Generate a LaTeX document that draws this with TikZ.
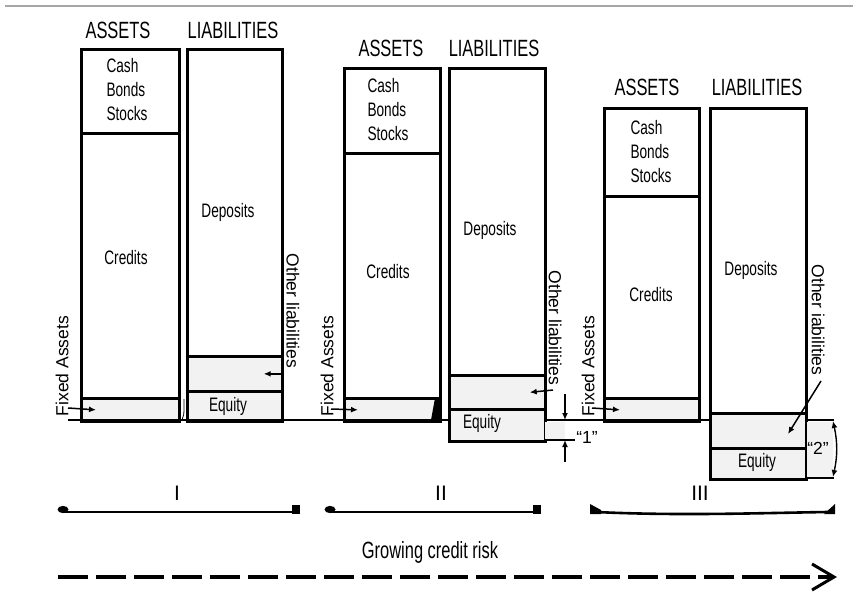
\documentclass[tikz,border=0pt]{standalone}
\usepackage{fontspec}
\setmainfont[FakeStretch=0.70]{Liberation Sans}
\newfontfamily\vfont{Liberation Sans}
\usetikzlibrary{arrows.meta}
\definecolor{lg}{gray}{0.95}
\tikzset{
  sec/.style n args={2}{draw, line width=2.7pt, anchor=north west, inner sep=0pt, minimum width=#1, minimum height=#2},
  hd/.style={font=\fontsize{23.5}{26}\selectfont, inner sep=0pt},
  tx/.style={font=\fontsize{19.5}{24}\selectfont, inner sep=0pt, align=left},
  vt/.style={font=\vfont\fontsize{17.5}{20}\selectfont, inner sep=0pt},
  rn/.style={font=\vfont\fontsize{21}{24}\selectfont, inner sep=0pt},
  ptr/.style={line width=1.5pt, -{Latex[length=7pt,width=6pt]}},
  base/.style={line width=2.8pt},
  brace/.style={line width=2.6pt}
}
\begin{document}
\begin{tikzpicture}[x=1pt,y=-1pt]
\useasboundingbox (0,0) rectangle (853,609);
\draw[gray!70, line width=1.2pt] (5,6) -- (853,6);

% ---------- Panel I ----------
\node[hd] (h1a) at (118,30) {ASSETS};
\node[hd] (h1l) at (233,30) {LIABILITIES};
\node[sec={98pt}{84pt}] (a1cash) at (80,48) {};
\node[sec={98pt}{265pt}] (a1cred) at (80,132) {};
\node[sec={98pt}{23pt}, fill=lg] (a1fix) at (80,397) {};
\node[sec={95pt}{307pt}] (l1dep) at (186,48) {};
\node[sec={95pt}{35pt}, fill=lg] (l1oth) at (186,355) {};
\node[sec={95pt}{30pt}, fill=lg] (l1eq) at (186,390) {};
\node[tx] (t1c) at (127,90) {Cash\\Bonds\\Stocks};
\node[tx] (t1cr) at (126,258) {Credits};
\node[tx] (t1d) at (228,212) {Deposits};
\node[tx] (t1e) at (228,406) {Equity};
\node[vt, rotate=90] (f1) at (62,366) {Fixed Assets};
\node[vt, rotate=-90] (o1) at (293,311) {Other liabilities};
\coordinate (f1s) at (68,408);
\draw[ptr] (f1s) -- ([xshift=16pt]a1fix.west);
\draw[ptr] (l1oth.east) -- ([xshift=-20pt]l1oth.east);
\draw[line width=0.8pt] (182,420) .. controls (184,416) .. (184,399);

% ---------- Panel II ----------
\node[hd] (h2a) at (391,48) {ASSETS};
\node[hd] (h2l) at (494,48) {LIABILITIES};
\node[sec={96pt}{85pt}] (a2cash) at (343,67) {};
\node[sec={96pt}{245pt}] (a2cred) at (343,152) {};
\node[sec={96pt}{23pt}, fill=lg] (a2fix) at (343,397) {};
\node[sec={96pt}{307pt}] (l2dep) at (448,67) {};
\node[sec={96pt}{34pt}, fill=lg] (l2oth) at (448,374) {};
\node[sec={96pt}{32pt}, fill=lg] (l2eq) at (448,408) {};
\node[tx] (t2c) at (388,110) {Cash\\Bonds\\Stocks};
\node[tx] (t2cr) at (388,272) {Credits};
\node[tx] (t2d) at (490,230) {Deposits};
\node[tx] (t2e) at (482,423) {Equity};
\node[vt, rotate=90] (f2) at (327,366) {Fixed Assets};
\node[vt, rotate=-90] (o2) at (555,328) {Other liabilities};
\coordinate (f2s) at (331,409);
\draw[ptr] (f2s) -- ([xshift=15pt]a2fix.west);
\coordinate (o2s) at (553,390);
\draw[ptr] (o2s) -- ([xshift=-17pt]l2oth.east);
\fill (435,398) -- (439,398) -- (439,420) -- (431,420) -- cycle;

% dimension "1"
\fill[lg] (545,421.5) rectangle (565,440);
\draw[line width=1.4pt] (545,440) -- (575,440);
\coordinate (d1t) at (565,394);
\coordinate (d1a) at (565,420);
\coordinate (d1b) at (565,440);
\coordinate (d1c) at (565,462);
\draw[ptr] (d1t) -- (d1a);
\draw[ptr] (d1c) -- (d1b);
\node[vt] (n1) at (587,437) {“1”};

% ---------- Panel III ----------
\node[hd] (h3a) at (647,87) {ASSETS};
\node[hd] (h3l) at (757,87) {LIABILITIES};
\node[sec={95pt}{88pt}] (a3cash) at (603,107) {};
\node[sec={95pt}{202pt}] (a3cred) at (603,195) {};
\node[sec={95pt}{23pt}, fill=lg] (a3fix) at (603,397) {};
\node[sec={96pt}{305pt}] (l3dep) at (709,107) {};
\node[sec={96pt}{35pt}, fill=lg] (l3oth) at (709,412) {};
\node[sec={96pt}{31pt}, fill=lg] (l3eq) at (709,447) {};
\node[tx] (t3c) at (651,152) {Cash\\Bonds\\Stocks};
\node[tx] (t3cr) at (651,295) {Credits};
\node[tx] (t3d) at (751,270) {Deposits};
\node[tx] (t3e) at (757,462) {Equity};
\node[vt, rotate=90] (f3) at (588,366) {Fixed Assets};
\node[vt, rotate=-90] (o3) at (818,320) {Other iabilities};
\coordinate (f3s) at (592,408);
\draw[ptr] (f3s) -- ([xshift=17pt]a3fix.west);
\coordinate (o3s) at (821,381);
\coordinate (o3e) at (788,434);
\draw[ptr] (o3s) -- (o3e);

% dimension "2"
\fill[lg] (806.5,421.5) rectangle (833,477);
\draw[line width=1.8pt] (805,478) -- (834,478);
\coordinate (d2t) at (833,421);
\coordinate (d2b) at (833,477);
\draw[line width=1.4pt, {Latex[length=7pt,width=6pt]}-{Latex[length=7pt,width=6pt]}] (d2t) to[bend left=12] (d2b);
\node[vt] (n2) at (818,448) {“2”};

% ---------- baseline ----------
\draw[base] (68,420) -- (l2eq.west |- 0,420);
\draw[base] (l2eq.east |- 0,420) -- (l3dep.west |- 0,420);
\draw[base] (l3dep.east |- 0,420) -- (834,420);

% ---------- braces ----------
\node[rn] (r1) at (177,493) {I};
\node[rn] (r2) at (441,493) {II};
\node[rn] (r3) at (700,493) {III};
\draw[brace] (62,512) -- (296,512);
\fill (63,509.5) ellipse (5.5pt and 3.6pt);
\fill (292,505) rectangle (300,513.5);
\draw[brace] (329,512) -- (536,512);
\fill (330,509.5) ellipse (5.5pt and 3.6pt);
\fill (533,505) rectangle (541,513.5);
\draw[brace] (596,512) .. controls (680,516) and (760,513) .. (828,512);
\fill (590,504) -- (601,510) -- (601,514) -- (590,514) -- cycle;
\fill (835,504) -- (835,514) -- (824,514) -- cycle;

% ---------- growing credit risk ----------
\node[hd] (gcr) at (430,552) {Growing credit risk};
\coordinate (gs) at (58,577);
\coordinate (gm) at (818,577);
\coordinate (ge) at (834,577);
\draw[line width=4pt, dash pattern=on 30pt off 8pt] (gs) -- (gm);
\draw[line width=4pt] (gm) -- (ge);
\draw[line width=3pt, line join=miter] (812,564) -- (ge) -- (812,590);
\end{tikzpicture}
\end{document}
